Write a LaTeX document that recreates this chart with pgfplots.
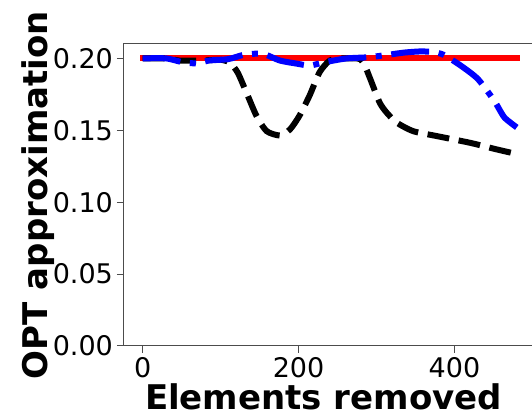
\documentclass[border=0pt]{standalone}
\usepackage{fontspec}
\setmainfont{DejaVu Sans}
\usepackage{pgfplots}
\pgfplotsset{compat=1.18}
\usetikzlibrary{calc}

\begin{document}
\begin{tikzpicture}
\begin{axis}[name=ax,scale only axis,width=205.75pt,height=151pt,
  xmin=-24,xmax=504,ymin=0,ymax=0.21,
  xtick={0,200,400},ytick={0,0.05,0.1,0.15,0.2},
  yticklabel style={xshift=1.5pt,/pgf/number format/.cd,fixed,fixed zerofill,precision=2},
  xticklabel style={yshift=1.5pt},
  /pgf/number format/assume math mode=true,
  tick label style={font=\fontsize{13.5pt}{16pt}\selectfont},
  tick align=outside,tick pos=left,major tick length=3.5pt,
  axis line style={black!70,line width=0.5pt},
  every tick/.style={black!70,line width=0.5pt},
  xlabel={\bfseries Elements removed},
  ylabel={\bfseries OPT approximation},
  label style={font=\fontsize{17pt}{20pt}\selectfont},
  xlabel style={at={(axis description cs:0.485,0)},anchor=base,yshift=-32pt},
  ylabel style={at={(axis description cs:-0.187,0.5)},anchor=base,rotate=0},
  clip=false]
\addplot[red,line width=3pt,line cap=rect] coordinates {(0,0.2) (480,0.2)};
\addplot[black,line width=3pt,smooth,tension=0.4,dash pattern=on 11pt off 4.8pt] coordinates {
(0,.2) (30,.2) (47,.1985) (75,.1985) (100,.199) (112,.197) (122,.190) (133,.1764)
(146,.160) (159,.1494) (176,.1464) (189,.1506) (201,.160) (214,.174) (227,.1904)
(240,.1985) (255,.2) (270,.2) (279,.1995) (285,.195) (292,.1857) (304,.1693)
(313,.1623) (326,.1553) (347,.1494) (377,.146) (420,.1413) (455,.1366) (480,.1335)};
\addplot[blue,line width=3pt,smooth,tension=0.4,dash pattern=on 19pt off 4.8pt on 3pt off 4.8pt] coordinates {
(0,.2) (30,.2) (50,.1975) (69,.1965) (85,.1985) (110,.1995) (130,.2025) (154,.2032)
(176,.1985) (198,.1963) (214,.195) (227,.1965) (240,.198) (262,.200) (290,.2008)
(315,.2025) (335,.204) (355,.2048) (372,.2045) (386,.2025) (408,.195) (430,.1857)
(451,.1706) (464,.159) (480,.152)};
\end{axis}
\pgfresetboundingbox
\path[use as bounding box] ($(ax.south west)+(-62pt,-35pt)$) rectangle ($(ax.south west)+(204pt,173pt)$);
\end{tikzpicture}
\end{document}
